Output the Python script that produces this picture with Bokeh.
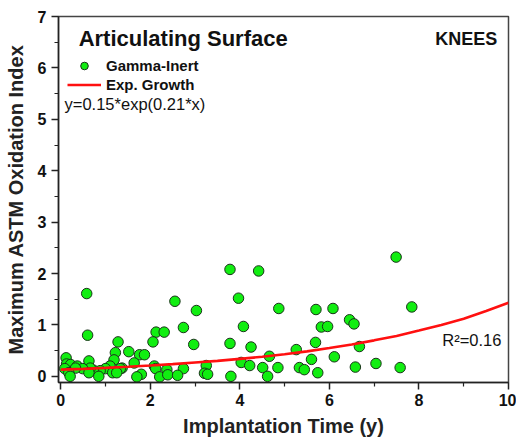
from bokeh.plotting import figure
from bokeh.models import Range1d, FixedTicker, Legend, LegendItem, Label
from bokeh.embed import file_html
from bokeh.resources import INLINE

# Gamma-Inert knees: implantation time (y) vs maximum ASTM oxidation index
time_y = [0.58, 0.60, 3.78, 4.42, 7.49, 3.97, 2.55, 4.87, 3.03, 5.70, 6.08, 7.84,
          6.45, 6.55, 5.82, 5.96, 4.08, 2.74, 2.13, 2.31, 2.97, 3.78, 4.25, 5.69,
          6.67, 5.26, 2.06, 1.28, 1.52, 1.22, 1.76, 1.87, 4.66, 0.12, 6.11, 5.60,
          1.19, 0.63, 4.03, 1.64, 7.04, 4.22, 3.25, 2.09,
          4.51, 4.85, 5.33, 5.44, 6.58, 7.58, 2.74, 2.37, 2.12, 1.37, 1.33, 1.10,
          1.00, 0.88, 0.73, 0.66, 0.13, 0.22, 0.37, 0.49, 0.33, 0.09, 0.18, 0.21,
          0.63, 0.85, 1.16, 1.25, 1.80, 1.70, 2.21, 2.39, 2.61, 3.21, 3.28, 3.80,
          4.62, 5.74]
oxidation = [1.61, 0.80, 2.08, 2.05, 2.32, 1.52, 1.46, 1.32, 1.28, 1.30, 1.32, 1.35,
             1.10, 1.02, 0.96, 0.97, 0.97, 0.95, 0.86, 0.86, 0.62, 0.64, 0.57, 0.66,
             0.58, 0.52, 0.67, 0.67, 0.48, 0.46, 0.42, 0.42, 0.39, 0.36, 0.38, 0.33,
             0.32, 0.30, 0.27, 0.26, 0.25, 0.21, 0.21, 0.20,
             0.17, 0.17, 0.17, 0.13, 0.18, 0.17, 0.15, 0.13, 0.15, 0.16, 0.15, 0.20,
             0.15, 0.11, 0.12, 0.16, 0.24, 0.23, 0.20, 0.15, 0.16, 0.15, 0.07, 0.00,
             0.07, 0.00, 0.07, 0.07, 0.04, -0.01, -0.01, 0.03, 0.02, 0.06, 0.04, 0.00,
             0.00, 0.07]

# Exponential growth fit curve
fit_x = [0, 0.5, 1, 1.5, 2, 2.5, 3, 3.5, 4, 4.5, 5, 5.5, 6, 6.5, 7, 7.5, 8, 8.5,
         9, 9.5, 10]
fit_y = [0.13, 0.146, 0.165, 0.186, 0.21, 0.237, 0.27, 0.30, 0.34, 0.38, 0.43,
         0.486, 0.55, 0.618, 0.70, 0.786, 0.89, 1.0, 1.12, 1.27, 1.43]

x_ticks = [0, 2, 4, 6, 8, 10]
x_minor = [1, 3, 5, 7, 9]
y_ticks = [0, 1, 2, 3, 4, 5, 6, 7]
y_minor = [0.5, 1.5, 2.5, 3.5, 4.5, 5.5, 6.5]

FONT = "Liberation Sans"

p = figure(width=516, height=444, output_backend="svg", toolbar_location=None,
           x_range=Range1d(-0.05, 10), y_range=Range1d(-0.12, 7),
           min_border_left=58, min_border_right=8, min_border_top=16,
           min_border_bottom=62)
p.xgrid.visible = False
p.ygrid.visible = False
p.outline_line_color = "#444444"
p.outline_line_width = 1.5
p.background_fill_color = "white"
p.border_fill_color = "white"

p.xaxis.ticker = FixedTicker(ticks=x_ticks, minor_ticks=x_minor)
p.yaxis.ticker = FixedTicker(ticks=y_ticks, minor_ticks=y_minor)

for ax in (p.xaxis[0], p.yaxis[0]):
    ax.axis_line_color = "#222222"
    ax.axis_line_width = 1.5
    ax.major_tick_line_color = "#222222"
    ax.minor_tick_line_color = "#222222"
    ax.major_tick_line_width = 1.5
    ax.minor_tick_line_width = 1.2
    ax.major_tick_in = 0
    ax.major_tick_out = 7
    ax.minor_tick_in = 0
    ax.minor_tick_out = 4
    ax.major_label_text_font = FONT
    ax.major_label_text_font_style = "bold"
    ax.major_label_text_font_size = "16px"
    ax.major_label_text_color = "#111111"
    ax.axis_label_text_font = FONT
    ax.axis_label_text_font_style = "bold"
    ax.axis_label_text_font_size = "20px"
    ax.axis_label_text_color = "#222222"

p.xaxis.axis_label = "Implantation Time (y)"
p.yaxis.axis_label = "Maximum ASTM Oxidation Index"
p.xaxis.major_label_standoff = 4
p.yaxis.major_label_standoff = 5
p.xaxis.axis_label_standoff = 6
p.yaxis.axis_label_standoff = 8

pts = p.scatter(time_y, oxidation, size=10.5, fill_color="#11ee11",
                line_color="#1a331a", line_width=1.0)
fit = p.line(fit_x, fit_y, line_color="#ff1010", line_width=2.6)

legend = Legend(items=[LegendItem(label="Gamma-Inert", renderers=[pts]),
                       LegendItem(label="Exp. Growth", renderers=[fit])],
                location=(9, 288), padding=0, margin=0, spacing=0,
                glyph_width=34, glyph_height=19, label_height=19,
                label_standoff=5, border_line_color=None,
                background_fill_alpha=0,
                label_text_font=FONT, label_text_font_style="bold",
                label_text_font_size="15px", label_text_color="#111111")
p.add_layout(legend)

p.add_layout(Label(x=0.40, y=6.57, text="Articulating Surface", text_font=FONT,
                   text_font_style="bold", text_font_size="22px",
                   text_baseline="middle", text_color="#111111"))
p.add_layout(Label(x=9.75, y=6.57, text="KNEES", text_font=FONT,
                   text_font_style="bold", text_font_size="18px",
                   text_align="right", text_baseline="middle", text_color="#111111"))
p.add_layout(Label(x=0.085, y=5.29, text="y=0.15*exp(0.21*x)", text_font=FONT,
                   text_font_size="16.5px", text_baseline="middle",
                   text_color="#111111"))
p.add_layout(Label(x=8.52, y=0.70, text="R\u00b2=0.16", text_font=FONT,
                   text_font_size="16.5px", text_baseline="middle",
                   text_color="#111111"))

open("out.html", "w").write(file_html(p, INLINE))
